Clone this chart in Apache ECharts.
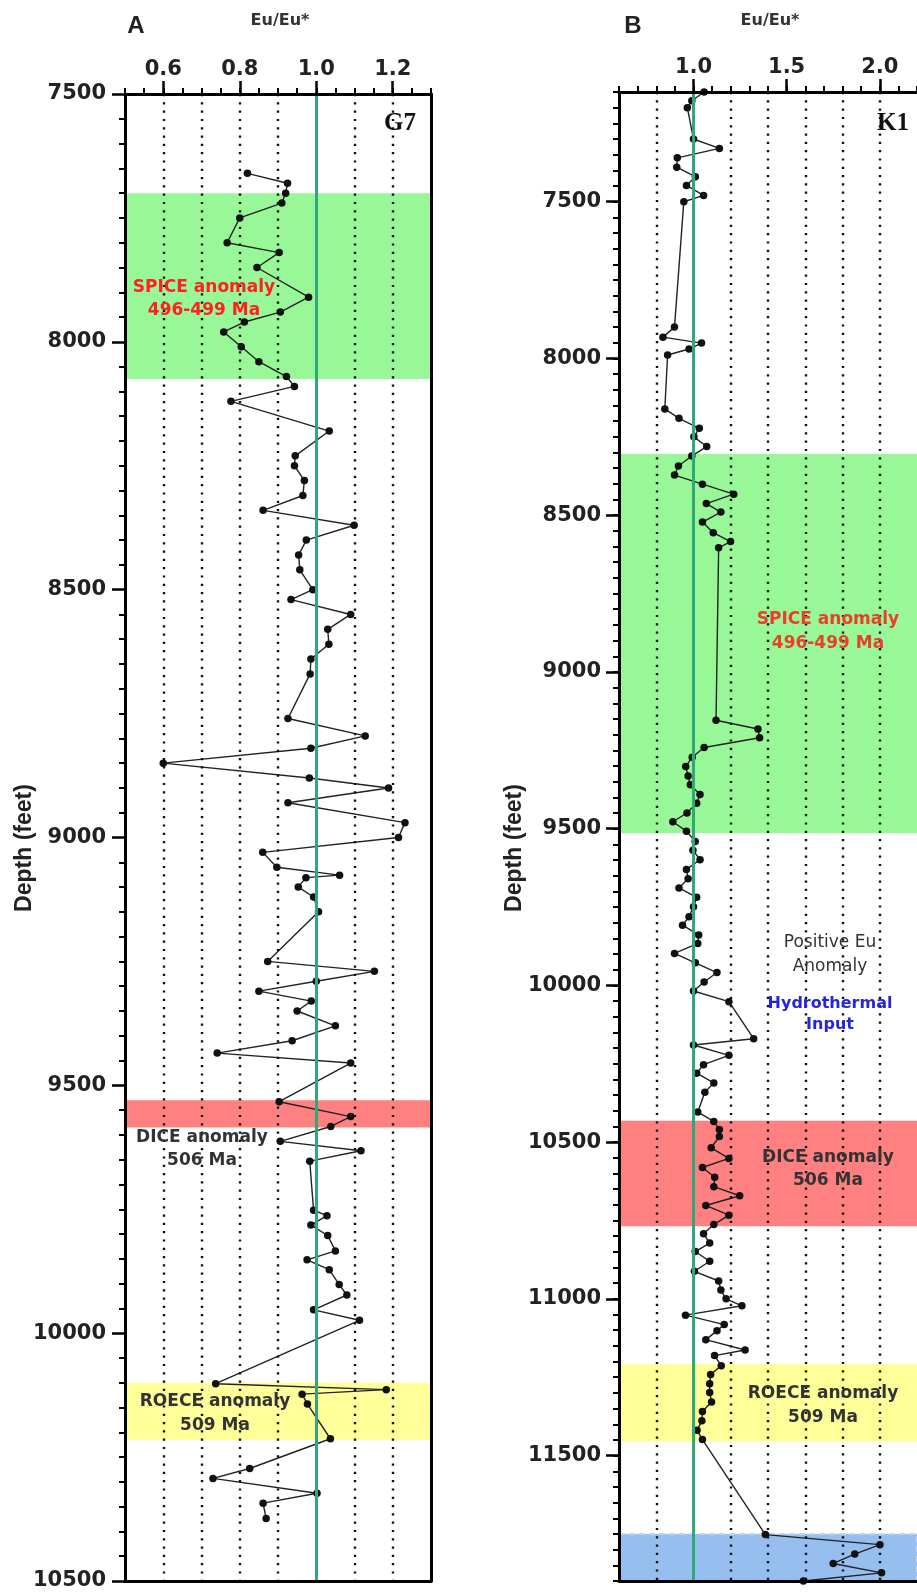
<!DOCTYPE html>
<html>
<head>
<meta charset="utf-8">
<script src="https://cdn.jsdelivr.net/npm/echarts@6/dist/echarts.min.js"></script>
<style>
html,body{margin:0;padding:0;background:#fff;}
#chart{width:917px;height:1593px;}
</style>
</head>
<body>
<div id="chart"></div>
<script>
// ---------- DATA ----------
// Panel A (G7): depth (feet) and Eu/Eu*
const depthA = [7660,7680,7700,7720,7750,7800,7820,7850,7910,7940,7960,7980,8010,8040,8070,8090,8120,8180,8230,8250,8280,8310,8340,8370,8400,8430,8460,8500,8520,8550,8580,8610,8640,8670,8760,8795,8820,8850,8880,8900,8930,8970,9000,9030,9060,9076,9081,9100,9120,9150,9250,9270,9290,9310,9330,9350,9380,9410,9435,9455,9533,9563,9583,9613,9632,9653,9752,9763,9782,9803,9834,9852,9872,9902,9923,9953,9974,10102,10114,10123,10143,10213,10273,10293,10323,10343,10374];
const euA = [0.82,0.925,0.92,0.91,0.80,0.767,0.903,0.845,0.98,0.906,0.812,0.758,0.804,0.85,0.922,0.943,0.777,1.034,0.945,0.943,0.969,0.965,0.861,1.099,0.974,0.954,0.957,0.991,0.934,1.09,1.03,1.033,0.986,0.984,0.926,1.128,0.986,0.60,0.982,1.189,0.926,1.232,1.215,0.86,0.897,1.061,0.973,0.953,0.993,1.006,0.873,1.152,1.0,0.85,0.987,0.95,1.05,0.937,0.741,1.09,0.903,1.09,1.038,0.906,1.117,0.983,0.993,1.028,0.986,1.03,1.05,0.976,1.034,1.06,1.08,0.993,1.113,0.737,1.183,0.963,0.977,1.037,0.826,0.73,1.002,0.861,0.869];

// Panel B (K1)
const depthB = [7150,7178,7200,7300,7330,7360,7390,7420,7448,7480,7500,7900,7932,7951,7970,7989,8161,8191,8223,8250,8281,8311,8343,8372,8401,8433,8463,8490,8522,8556,8584,8604,9154,9182,9210,9241,9272,9302,9332,9360,9391,9419,9450,9478,9508,9541,9569,9599,9630,9660,9689,9719,9749,9781,9808,9839,9866,9898,9928,9959,9989,10018,10052,10170,10190,10223,10253,10280,10311,10341,10404,10434,10460,10482,10518,10552,10581,10612,10642,10671,10702,10733,10763,10792,10822,10849,10880,10912,10943,10972,11000,11022,11052,11082,11102,11130,11163,11181,11213,11241,11271,11299,11329,11359,11389,11419,11449,11752,11784,11814,11844,11874,11900];
const euB = [1.057,0.991,0.967,1.0,1.139,0.913,0.91,1.01,0.962,1.054,0.948,0.898,0.836,1.043,0.976,0.861,0.846,0.922,1.031,1.002,1.071,0.991,0.919,0.898,1.048,1.216,1.069,1.147,1.048,1.106,1.199,1.135,1.121,1.346,1.355,1.057,0.993,0.958,0.971,0.983,1.035,1.017,0.965,0.889,0.962,1.009,0.997,1.035,0.962,0.971,0.922,1.017,1.0,0.976,0.941,1.028,1.023,0.898,1.01,1.126,1.057,1.0,1.19,1.323,1.0,1.19,1.054,1.017,1.109,1.061,1.023,1.109,1.139,1.139,1.095,1.19,1.048,1.114,1.109,1.248,1.066,1.19,1.109,1.054,1.087,1.009,1.087,1.005,1.135,1.147,1.175,1.26,0.957,1.165,1.126,1.066,1.277,1.113,1.149,1.092,1.087,1.087,1.097,1.048,1.045,1.019,1.048,1.386,2.001,1.866,1.75,2.01,1.59];

// Tick labels
const xLabelsA = [0.6, 0.8, 1.0, 1.2];
const xLabelsB = [1.0, 1.5, 2.0];
const yLabelsA = [7500, 8000, 8500, 9000, 9500, 10000, 10500];
const yLabelsB = [7500, 8000, 8500, 9000, 9500, 10000, 10500, 11000, 11500];
// Dotted reference lines
const dotsA = [0.6, 0.7, 0.8, 0.9, 1.1, 1.2];
const dotsB = [0.8, 1.2, 1.4, 1.6, 1.8, 2.0];
const refValue = 1.0;
// Anomaly intervals (depth from, depth to)
const spiceA = [7700, 8075];
const diceA = [9530, 9585];
const roeceA = [10100, 10215];
const spiceB = [8305, 9515];
const diceB = [10432, 10768];
const roeceB = [11208, 11455];
const baseB = [11750, 11900];

// ---------- STYLE ----------
const C_SPICE = '#98f898', C_DICE = '#ff8080', C_ROECE = '#ffff99', C_BASE = '#96bff0';
const GREEN = '#30a878';
const NUMFONT = {fontFamily: 'DejaVu Sans', fontWeight: 'bold', fontSize: 21, color: '#222'};
const DOT = {type: [2.2, 6.1], width: 2.4, color: '#111', cap: 'butt'};

const chart = echarts.init(document.getElementById('chart'), null, {renderer: 'canvas'});

function majorXAxis(grid, min, max, vals) {
  return {gridIndex: grid, type: 'value', position: 'top', min, max, z: 10,
    axisLine: {show: false}, splitLine: {show: false}, axisLabel: {show: false},
    axisTick: {show: true, customValues: vals, length: 13, lineStyle: {color: '#000', width: 2.5}}};
}
function majorYAxis(grid, min, max, vals) {
  return {gridIndex: grid, type: 'value', inverse: true, position: 'left', min, max, z: 10,
    axisLine: {show: false}, splitLine: {show: false}, axisLabel: {show: false},
    axisTick: {show: true, customValues: vals, length: 13, lineStyle: {color: '#000', width: 2.5}}};
}
function borderXAxis(grid, min, max) {
  return {gridIndex: grid, type: 'value', position: 'bottom', min, max, z: 10,
    axisLine: {show: true, onZero: false, lineStyle: {color: '#000', width: 3}},
    axisTick: {show: false}, axisLabel: {show: false}, splitLine: {show: false}};
}
const plain = v => String(v);

const option = {
  animation: false,
  backgroundColor: '#fff',
  grid: [
    {left: 125, top: 94, width: 306, height: 1487, show: false},
    {left: 619, top: 92, width: 307, height: 1489, show: false}
  ],
  xAxis: [
    {gridIndex: 0, type: 'value', position: 'top', min: 0.5, max: 1.3, interval: 0.1, z: 10,
      axisLine: {show: true, onZero: false, lineStyle: {color: '#000', width: 3}},
      axisTick: {show: true, length: 6, lineStyle: {color: '#000', width: 2}},
      minorTick: {show: true, splitNumber: 2, length: 6, lineStyle: {color: '#000', width: 2}},
      axisLabel: Object.assign({customValues: xLabelsA, margin: 14, formatter: v => v.toFixed(1)}, NUMFONT),
      splitLine: {show: false}},
    majorXAxis(0, 0.5, 1.3, xLabelsA),
    borderXAxis(0, 0.5, 1.3),
    {gridIndex: 1, type: 'value', position: 'top', min: 0.6, max: 2.2, interval: 0.2, z: 10,
      axisLine: {show: true, onZero: false, lineStyle: {color: '#000', width: 3}},
      axisTick: {show: true, length: 6, lineStyle: {color: '#000', width: 2}},
      minorTick: {show: true, splitNumber: 2, length: 6, lineStyle: {color: '#000', width: 2}},
      axisLabel: Object.assign({customValues: xLabelsB, margin: 14, formatter: v => v.toFixed(1)}, NUMFONT),
      splitLine: {show: false}},
    majorXAxis(1, 0.6, 2.2, xLabelsB),
    borderXAxis(1, 0.6, 2.2)
  ],
  yAxis: [
    {gridIndex: 0, type: 'value', inverse: true, position: 'left', min: 7500, max: 10500, interval: 500, z: 10,
      axisLine: {show: true, onZero: false, lineStyle: {color: '#000', width: 3}},
      axisTick: {show: true, length: 13, lineStyle: {color: '#000', width: 2.5}},
      minorTick: {show: true, splitNumber: 10, length: 6, lineStyle: {color: '#000', width: 2}},
      axisLabel: Object.assign({customValues: yLabelsA, margin: 19, formatter: plain}, NUMFONT),
      splitLine: {show: false}},
    {gridIndex: 0, type: 'value', inverse: true, position: 'right', min: 7500, max: 10500, z: 10,
      axisLine: {show: true, onZero: false, lineStyle: {color: '#000', width: 3}},
      axisTick: {show: false}, axisLabel: {show: false}, splitLine: {show: false}},
    {gridIndex: 1, type: 'value', inverse: true, position: 'left', min: 7150, max: 11900, interval: 50, z: 10,
      axisLine: {show: true, onZero: false, lineStyle: {color: '#000', width: 3}},
      axisTick: {show: true, length: 6, lineStyle: {color: '#000', width: 2}},
      axisLabel: Object.assign({customValues: yLabelsB, margin: 18, formatter: plain}, NUMFONT),
      splitLine: {show: false}},
    majorYAxis(1, 7150, 11900, yLabelsB)
  ],
  series: [
    {type: 'line', xAxisIndex: 0, yAxisIndex: 0, data: [], z: 1, silent: true,
      markArea: {silent: true, data: [
        [{yAxis: spiceA[0], itemStyle: {color: C_SPICE}}, {yAxis: spiceA[1]}],
        [{yAxis: diceA[0], itemStyle: {color: C_DICE}}, {yAxis: diceA[1]}],
        [{yAxis: roeceA[0], itemStyle: {color: C_ROECE}}, {yAxis: roeceA[1]}]
      ]}},
    {type: 'line', xAxisIndex: 0, yAxisIndex: 0, data: [], z: 2, silent: true,
      markLine: {silent: true, symbol: 'none', label: {show: false},
        data: dotsA.map(v => ({xAxis: v, lineStyle: DOT}))
          .concat([{xAxis: refValue, lineStyle: {type: 'solid', width: 3, color: GREEN}}])}},
    {type: 'line', xAxisIndex: 0, yAxisIndex: 0, z: 3, clip: false,
      data: depthA.map((d, i) => [euA[i], d]),
      symbol: 'circle', symbolSize: 7.5, itemStyle: {color: '#111'},
      lineStyle: {color: '#222', width: 1.4}},
    {type: 'line', xAxisIndex: 3, yAxisIndex: 2, data: [], z: 1, silent: true,
      markArea: {silent: true, data: [
        [{yAxis: spiceB[0], itemStyle: {color: C_SPICE}}, {yAxis: spiceB[1]}],
        [{yAxis: diceB[0], itemStyle: {color: C_DICE}}, {yAxis: diceB[1]}],
        [{yAxis: roeceB[0], itemStyle: {color: C_ROECE}}, {yAxis: roeceB[1]}],
        [{yAxis: baseB[0], itemStyle: {color: C_BASE, borderColor: '#bcd6f5', borderWidth: 2, borderType: [6, 4]}}, {yAxis: baseB[1]}]
      ]}},
    {type: 'line', xAxisIndex: 3, yAxisIndex: 2, data: [], z: 2, silent: true,
      markLine: {silent: true, symbol: 'none', label: {show: false},
        data: dotsB.map(v => ({xAxis: v, lineStyle: DOT}))
          .concat([{xAxis: refValue, lineStyle: {type: 'solid', width: 3, color: GREEN}}])}},
    {type: 'line', xAxisIndex: 3, yAxisIndex: 2, z: 3, clip: false,
      data: depthB.map((d, i) => [euB[i], d]),
      symbol: 'circle', symbolSize: 7.5, itemStyle: {color: '#111'},
      lineStyle: {color: '#222', width: 1.4}}
  ],
  graphic: [
    {type: 'text', x: 136, y: 26, style: {text: 'A', textAlign: 'center', textVerticalAlign: 'middle', font: 'bold 24px "Liberation Sans", Arial', fill: '#222'}},
    {type: 'text', x: 280, y: 21, style: {text: 'Eu/Eu*', textAlign: 'center', textVerticalAlign: 'middle', font: 'bold 16px "DejaVu Sans"', fill: '#333'}},
    {type: 'text', x: 633, y: 26, style: {text: 'B', textAlign: 'center', textVerticalAlign: 'middle', font: 'bold 24px "Liberation Sans", Arial', fill: '#222'}},
    {type: 'text', x: 770, y: 21, style: {text: 'Eu/Eu*', textAlign: 'center', textVerticalAlign: 'middle', font: 'bold 16px "DejaVu Sans"', fill: '#333'}},
    {type: 'text', x: 25, y: 848, rotation: Math.PI / 2, style: {text: 'Depth (feet)', textAlign: 'center', textVerticalAlign: 'middle', font: 'bold 23px "Liberation Sans", Arial', fill: '#222'}},
    {type: 'text', x: 515, y: 848, rotation: Math.PI / 2, style: {text: 'Depth (feet)', textAlign: 'center', textVerticalAlign: 'middle', font: 'bold 23px "Liberation Sans", Arial', fill: '#222'}},
    {type: 'text', x: 400, y: 124, z: 20, style: {text: 'G7', textAlign: 'center', textVerticalAlign: 'middle', font: 'bold 25px "Liberation Serif", serif', fill: '#111'}},
    {type: 'text', x: 893, y: 124, z: 20, style: {text: 'K1', textAlign: 'center', textVerticalAlign: 'middle', font: 'bold 25px "Liberation Serif", serif', fill: '#111'}},
    {type: 'text', x: 204, y: 288, z: 20, style: {text: 'SPICE anomaly', textAlign: 'center', textVerticalAlign: 'middle', font: 'bold 17px "DejaVu Sans"', fill: '#ff2020'}},
    {type: 'text', x: 204, y: 311, z: 20, style: {text: '496-499 Ma', textAlign: 'center', textVerticalAlign: 'middle', font: 'bold 17px "DejaVu Sans"', fill: '#ff2020'}},
    {type: 'text', x: 202, y: 1138, z: 20, style: {text: 'DICE anomaly', textAlign: 'center', textVerticalAlign: 'middle', font: 'bold 17px "DejaVu Sans"', fill: '#333'}},
    {type: 'text', x: 202, y: 1161, z: 20, style: {text: '506 Ma', textAlign: 'center', textVerticalAlign: 'middle', font: 'bold 17px "DejaVu Sans"', fill: '#333'}},
    {type: 'text', x: 215, y: 1402, z: 20, style: {text: 'ROECE anomaly', textAlign: 'center', textVerticalAlign: 'middle', font: 'bold 17px "DejaVu Sans"', fill: '#333'}},
    {type: 'text', x: 215, y: 1426, z: 20, style: {text: '509 Ma', textAlign: 'center', textVerticalAlign: 'middle', font: 'bold 17px "DejaVu Sans"', fill: '#333'}},
    {type: 'text', x: 828, y: 620, z: 20, style: {text: 'SPICE anomaly', textAlign: 'center', textVerticalAlign: 'middle', font: 'bold 17px "DejaVu Sans"', fill: '#e8412a'}},
    {type: 'text', x: 828, y: 644, z: 20, style: {text: '496-499 Ma', textAlign: 'center', textVerticalAlign: 'middle', font: 'bold 17px "DejaVu Sans"', fill: '#e8412a'}},
    {type: 'text', x: 830, y: 943, z: 20, style: {text: 'Positive Eu', textAlign: 'center', textVerticalAlign: 'middle', font: '17px "DejaVu Sans"', fill: '#333'}},
    {type: 'text', x: 830, y: 967, z: 20, style: {text: 'Anomaly', textAlign: 'center', textVerticalAlign: 'middle', font: '17px "DejaVu Sans"', fill: '#333'}},
    {type: 'text', x: 830, y: 1004, z: 20, style: {text: 'Hydrothermal', textAlign: 'center', textVerticalAlign: 'middle', font: 'bold 16px "DejaVu Sans"', fill: '#2626d8'}},
    {type: 'text', x: 830, y: 1025, z: 20, style: {text: 'Input', textAlign: 'center', textVerticalAlign: 'middle', font: 'bold 16px "DejaVu Sans"', fill: '#2626d8'}},
    {type: 'text', x: 828, y: 1158, z: 20, style: {text: 'DICE anomaly', textAlign: 'center', textVerticalAlign: 'middle', font: 'bold 17px "DejaVu Sans"', fill: '#333'}},
    {type: 'text', x: 828, y: 1181, z: 20, style: {text: '506 Ma', textAlign: 'center', textVerticalAlign: 'middle', font: 'bold 17px "DejaVu Sans"', fill: '#333'}},
    {type: 'text', x: 823, y: 1394, z: 20, style: {text: 'ROECE anomaly', textAlign: 'center', textVerticalAlign: 'middle', font: 'bold 17px "DejaVu Sans"', fill: '#333'}},
    {type: 'text', x: 823, y: 1418, z: 20, style: {text: '509 Ma', textAlign: 'center', textVerticalAlign: 'middle', font: 'bold 17px "DejaVu Sans"', fill: '#333'}}
  ]
};
chart.setOption(option);
</script>
</body>
</html>
